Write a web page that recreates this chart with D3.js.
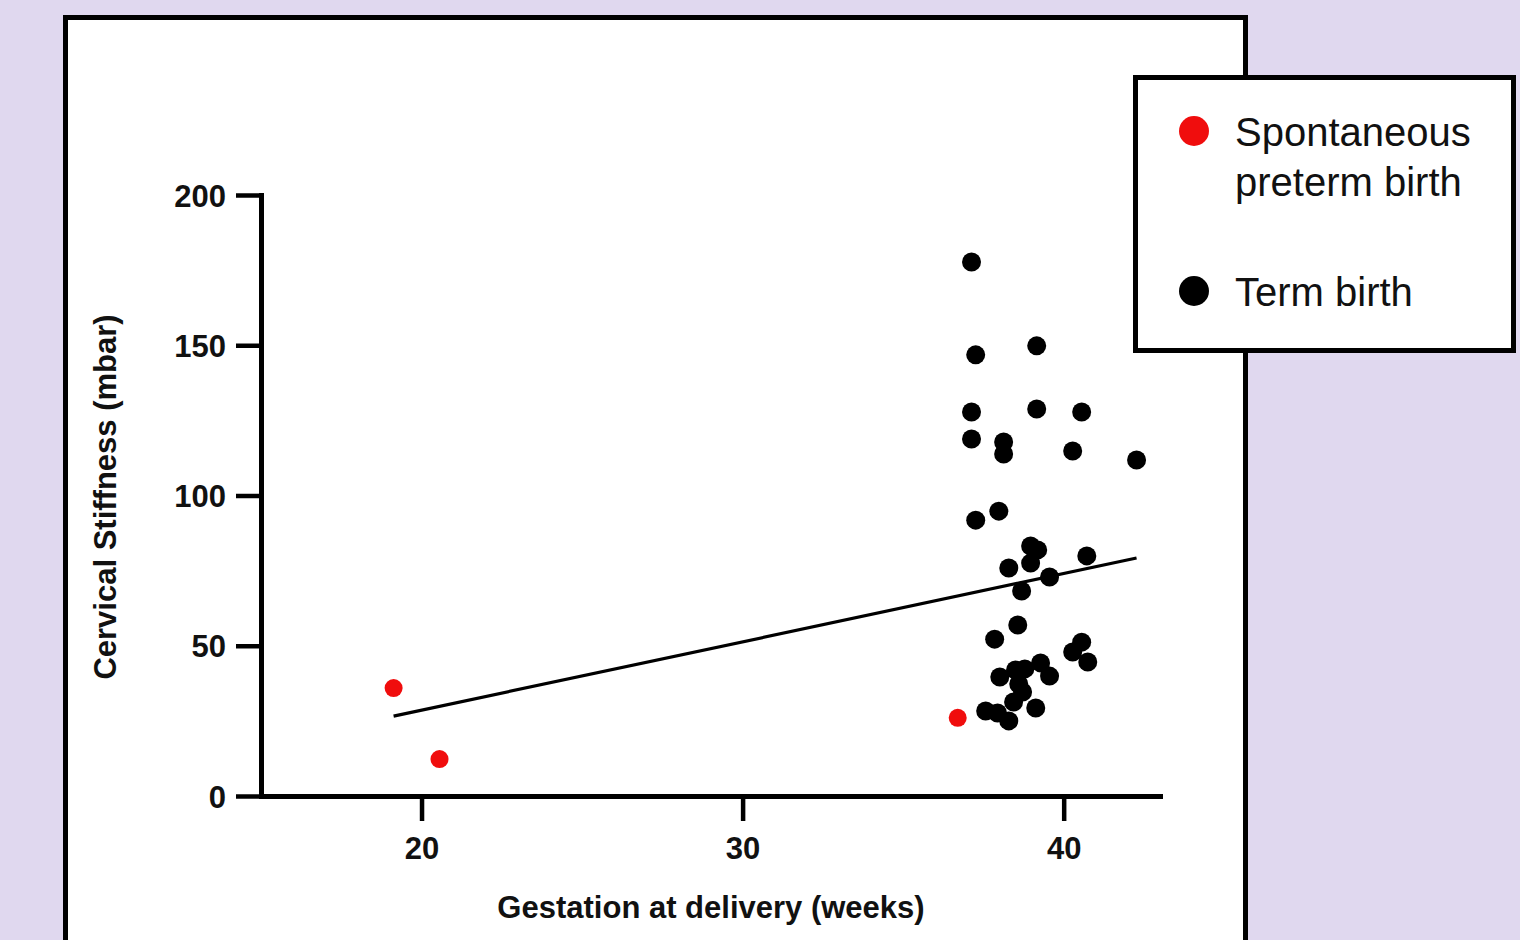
<!DOCTYPE html>
<html>
<head>
<meta charset="utf-8">
<script src="https://cdn.jsdelivr.net/npm/d3@7"></script>
<style>
  html, body { margin: 0; padding: 0; background: #e0d8ef; }
  svg { display: block; }
  text { font-family: "Liberation Sans", Arial, sans-serif; }
</style>
</head>
<body>
<svg id="chart" width="1520" height="940"></svg>
<script>
// ---------- data ----------
const pretermWeeks = [19.13, 20.56, 36.70];
const pretermStiffness = [35.9, 12.3, 26.0];

const termWeeks = [
  37.13, 37.26, 39.16, 37.13, 39.16, 40.56, 37.13, 38.13, 38.13, 40.28,
  42.27, 37.26, 37.98, 38.97, 39.19, 38.97, 40.72, 38.29, 39.56, 38.69,
  38.57, 37.85, 40.56, 40.28, 40.75, 38.01, 38.50, 38.79, 39.28, 39.56,
  38.60, 38.72, 38.44, 39.13, 37.57, 37.94, 38.29
];
const termStiffness = [
  177.7, 146.8, 149.8, 127.8, 128.8, 127.8, 118.8, 117.8, 113.8, 114.8,
  111.8, 91.8, 94.8, 83.2, 81.9, 77.5, 79.9, 75.9, 72.9, 68.2,
  56.9, 52.2, 51.2, 47.9, 44.6, 39.6, 41.9, 42.3, 44.3, 39.9,
  37.3, 34.6, 31.3, 29.3, 28.3, 27.6, 25.0
];

const fitWeeks = [19.13, 42.27];
const fitStiffness = [26.6, 79.2];

const xTicks = [20, 30, 40];
const yTicks = [0, 50, 100, 150, 200];
const xTitle = "Gestation at delivery (weeks)";
const yTitle = "Cervical Stiffness (mbar)";
const legendLabels = [["Spontaneous", "preterm birth"], ["Term birth"]];
const legendColors = ["#f00d0d", "#000000"];

// ---------- drawing ----------
const svg = d3.select("#chart");

// white panel
svg.append("rect")
  .attr("x", 65.5).attr("y", 17.5)
  .attr("width", 1180).attr("height", 1000)
  .attr("fill", "#ffffff").attr("stroke", "#000").attr("stroke-width", 5);

const x = d3.scaleLinear().domain([15, 43]).range([261, 1160]);
const y = d3.scaleLinear().domain([0, 200]).range([796, 195]);

// axes
const xAxis = d3.axisBottom(x).tickValues(xTicks).tickSize(25).tickSizeOuter(0).tickPadding(16);
const yAxis = d3.axisLeft(y).tickValues(yTicks).tickSize(25).tickSizeOuter(0).tickPadding(10);

const gx = svg.append("g").attr("transform", "translate(0,796)").call(xAxis);
const gy = svg.append("g").attr("transform", "translate(261,0)").call(yAxis);

[gx, gy].forEach(g => {
  g.select(".domain").attr("stroke", "#000").attr("stroke-width", 5).attr("stroke-linecap", "square");
  g.selectAll(".tick line").attr("stroke", "#000").attr("stroke-width", 4.5);
  g.selectAll(".tick text")
    .attr("fill", "#111")
    .style("font-size", "31px")
    .style("font-weight", "bold");
});
gx.selectAll(".tick text").attr("dy", "0.71em");
gy.selectAll(".tick text").attr("dy", "0.36em");

// titles
svg.append("text")
  .attr("x", 711).attr("y", 918)
  .attr("text-anchor", "middle")
  .style("font-size", "31px").style("font-weight", "bold").attr("fill", "#111")
  .text(xTitle);

svg.append("text")
  .attr("transform", "translate(116,497) rotate(-90)")
  .attr("text-anchor", "middle")
  .style("font-size", "31px").style("font-weight", "bold").attr("fill", "#111")
  .text(yTitle);

// fit line
svg.append("path")
  .datum(fitWeeks.map((w, i) => [w, fitStiffness[i]]))
  .attr("d", d3.line().x(d => x(d[0])).y(d => y(d[1])))
  .attr("fill", "none").attr("stroke", "#000").attr("stroke-width", 3.2);

// points
svg.append("g").selectAll("circle")
  .data(termWeeks.map((w, i) => [w, termStiffness[i]]))
  .join("circle")
  .attr("cx", d => x(d[0])).attr("cy", d => y(d[1])).attr("r", 9.5)
  .attr("fill", legendColors[1]);

svg.append("g").selectAll("circle")
  .data(pretermWeeks.map((w, i) => [w, pretermStiffness[i]]))
  .join("circle")
  .attr("cx", d => x(d[0])).attr("cy", d => y(d[1])).attr("r", 9)
  .attr("fill", legendColors[0]);

// legend
const lg = svg.append("g");
lg.append("rect")
  .attr("x", 1135.5).attr("y", 77.5).attr("width", 378).attr("height", 273)
  .attr("fill", "#fff").attr("stroke", "#000").attr("stroke-width", 5);
const legendY = [131, 291];
legendLabels.forEach((lines, i) => {
  lg.append("circle").attr("cx", 1194).attr("cy", legendY[i]).attr("r", 15).attr("fill", legendColors[i]);
  lines.forEach((t, j) => {
    lg.append("text")
      .attr("x", 1235).attr("y", legendY[i] + 15 + j * 50)
      .style("font-size", "40px").attr("fill", "#111")
      .text(t);
  });
});
</script>
</body>
</html>
